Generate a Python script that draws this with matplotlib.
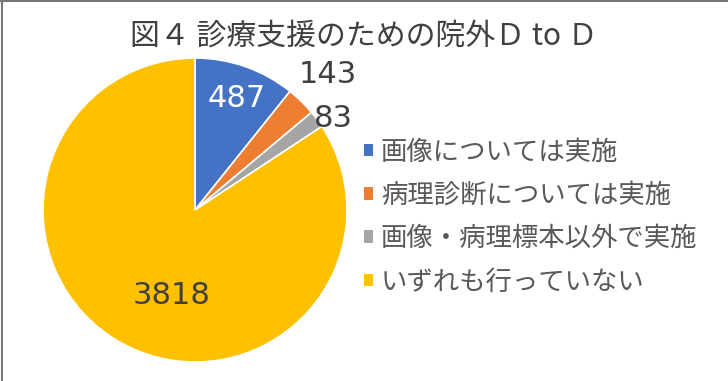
import numpy as np
import matplotlib.pyplot as plt

plt.rcParams['font.family'] = ['Noto Sans CJK JP', 'DejaVu Sans']

# データ
labels = ["画像については実施", "病理診断については実施", "画像・病理標本以外で実施", "いずれも行っていない"]
values = [487, 143, 83, 3818]
colors = ["#4472C4", "#ED7D31", "#A5A5A5", "#FFC000"]
title = "図４ 診療支援のための院外Ｄ to Ｄ"

# ラベルの配置 (半径, 角度のずれ)
label_r = [0.78, 1.25, 1.09, 0.58]
label_dang = [-1, 0, -3, 13]
label_col = ["white", "#404040", "#404040", "#404040"]

W, H = 728, 381
fig = plt.figure(figsize=(W / 100, H / 100), dpi=100)

# 外枠
fig.add_artist(plt.Line2D([2 / W, 2 / W], [0, 1], color="#777777", lw=1.5))
fig.add_artist(plt.Line2D([0, 1], [1 - 1 / H, 1 - 1 / H], color="#777777", lw=1.5))

cx, cy, r = 195, 210, 152
ax = fig.add_axes([(cx - r) / W, (H - cy - r) / H, 2 * r / W, 2 * r / H])
wedges, _ = ax.pie(values, colors=colors, startangle=90, counterclock=False,
                   radius=1, wedgeprops=dict(edgecolor="white", linewidth=1.2))
ax.set_xlim(-1, 1)
ax.set_ylim(-1, 1)
ax.set_aspect("equal")
ax.axis("off")

for w, v, lr, da, c in zip(wedges, values, label_r, label_dang, label_col):
    ang = np.deg2rad((w.theta1 + w.theta2) / 2 + da)
    ax.text(lr * np.cos(ang), lr * np.sin(ang), str(v), ha="center", va="center",
            fontsize=22, color=c, family=["DejaVu Sans"], clip_on=False)

fig.text(0.5, 1 - 36 / H, title, ha="center", va="center", fontsize=21.5, color="#404040")

leg = fig.legend(wedges, labels, loc="center left", bbox_to_anchor=(340 / W, 1 - 217 / H),
                 frameon=False, fontsize=19, labelcolor="#595959", handlelength=0.35,
                 handleheight=0.35, handletextpad=0.3, labelspacing=0.62)
for h in leg.legend_handles:
    h.set_edgecolor("none")

fig.savefig("out.png", dpi=100)
